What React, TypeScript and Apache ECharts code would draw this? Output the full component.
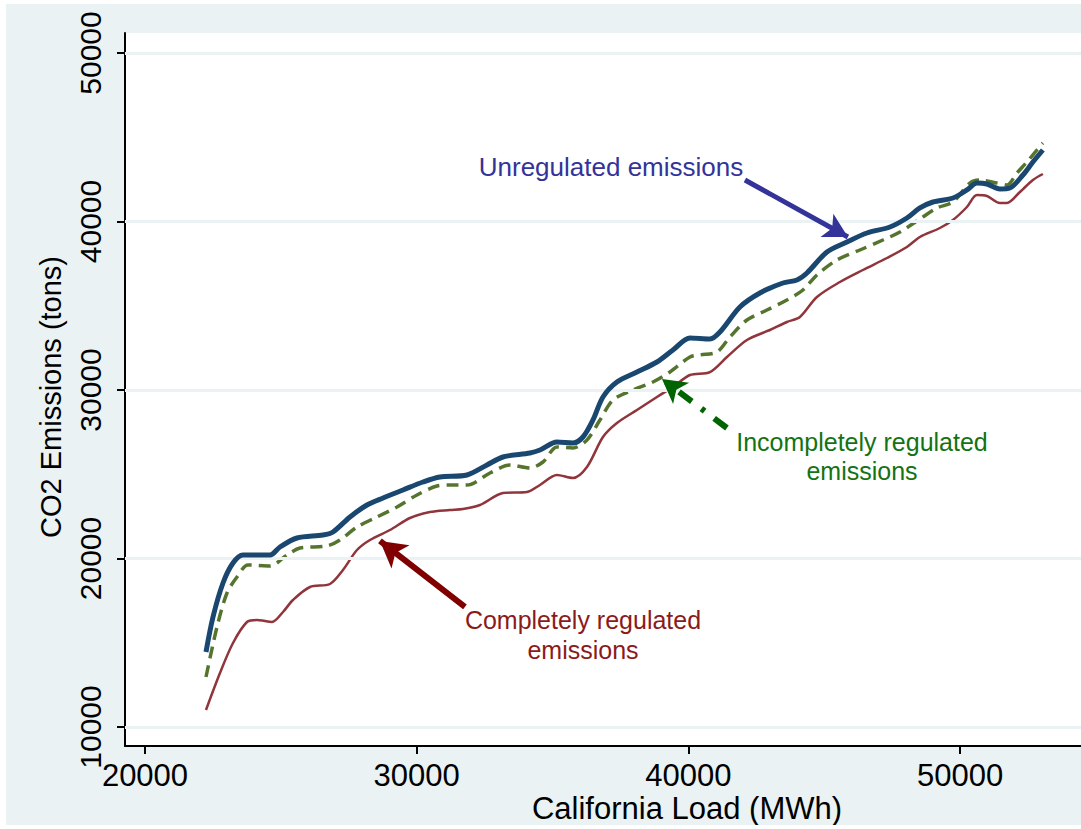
import React, { useEffect, useRef } from "react";
import * as echarts from "echarts";

// ---- Data ----
const unregLoad = [22245, 22503, 22871, 23239, 23607, 24601, 24969, 25594, 26551, 26919, 27545, 28171, 28760, 29496, 30232, 30857, 31851, 32587, 33176, 34170, 34538, 35164, 35753, 36121, 36489, 36857, 37372, 38108, 38844, 39433, 40059, 40795, 41163, 41899, 42635, 43482, 43997, 44365, 45101, 45837, 46573, 47420, 48045, 48524, 49002, 49738, 50254, 50622, 50990, 51468, 51836, 52315, 52683, 53050];
const unregCO2 = [14451, 16528, 18546, 19733, 20208, 20208, 20682, 21217, 21395, 21573, 22463, 23175, 23590, 24065, 24540, 24837, 24955, 25549, 26024, 26261, 26439, 26914, 26855, 27211, 28220, 29585, 30475, 31068, 31662, 32374, 33086, 33027, 33442, 34926, 35757, 36350, 36528, 36944, 38190, 38784, 39318, 39674, 40208, 40802, 41157, 41395, 41870, 42285, 42226, 41929, 41988, 42760, 43531, 44243];

const incompLoad = [22245, 22650, 23018, 23386, 23791, 24601, 25226, 25705, 26699, 27177, 27803, 28539, 29275, 30011, 30747, 31226, 31851, 32698, 33434, 34170, 34648, 35164, 35753, 36268, 36746, 37225, 37961, 38697, 39323, 40059, 40427, 41053, 41531, 42157, 42893, 43629, 44218, 44733, 45469, 46316, 47162, 47788, 48524, 49150, 49738, 50364, 50732, 51358, 51726, 52094, 52462, 52830, 53050];
const incompCO2 = [12967, 15935, 17953, 18902, 19614, 19555, 20208, 20623, 20742, 21098, 21869, 22463, 23056, 23768, 24303, 24362, 24362, 25074, 25549, 25371, 25727, 26617, 26558, 27033, 28220, 29406, 30000, 30475, 31068, 31958, 32077, 32255, 33145, 34154, 34748, 35341, 35935, 36825, 37715, 38309, 38902, 39377, 40149, 40802, 41157, 42285, 42463, 42285, 42166, 42879, 43531, 44243, 44659];

const compLoad = [22245, 22760, 23239, 23754, 24122, 24674, 25079, 25447, 26073, 26809, 27287, 27803, 28281, 29017, 29753, 30489, 31226, 31704, 32330, 33176, 34059, 34538, 35164, 35753, 36268, 36857, 37372, 38108, 38844, 39433, 40059, 40795, 41421, 42157, 43003, 43629, 44107, 44733, 45580, 46426, 47309, 48045, 48524, 49260, 49738, 50254, 50622, 50990, 51468, 51726, 52204, 52683, 53050];
const compCO2 = [11009, 13205, 14985, 16231, 16350, 16231, 16825, 17537, 18309, 18487, 19317, 20504, 21098, 21691, 22404, 22760, 22878, 22938, 23175, 23887, 23947, 24362, 24955, 24777, 25430, 27211, 28042, 28813, 29585, 30178, 30890, 31068, 31958, 32967, 33561, 34036, 34332, 35519, 36409, 37122, 37834, 38487, 39080, 39614, 40089, 40861, 41573, 41514, 41098, 41098, 41751, 42463, 42819];

const xTicks = [20000, 30000, 40000, 50000];
const yTicks = [10000, 20000, 30000, 40000, 50000];

// annotation arrows in data coordinates [fromX, fromY, toX, toY]
const arrowUnreg = [42083, 42463, 45874, 39080];
const arrowComp = [31777, 17122, 28649, 21039];
const arrowIncomp = [41421, 27745, 39029, 30653];

const X_MIN = 19264, X_MAX = 54453, Y_MIN = 8872, Y_MAX = 51187;
const FONT = "'Liberation Sans', Arial, sans-serif";
const OX = 6, OY = 4; // chart div offset on page

function zip(a: number[], b: number[]) {
  return a.map((v, i) => [v, b[i]]);
}

function arrowLine(a: number[], color: string, width: number, type: any, size: number[]) {
  return {
    silent: true,
    symbol: ["none", "arrow"],
    symbolSize: size,
    label: { show: false },
    emphasis: { disabled: true },
    lineStyle: { color, width, type, opacity: 1 },
    data: [[{ coord: [a[0], a[1]] }, { coord: [a[2], a[3]] }]],
  };
}

export default function App() {
  const ref = useRef<HTMLDivElement>(null);
  useEffect(() => {
    if (!ref.current) return;
    const chart = echarts.init(ref.current, undefined, { renderer: "svg" });
    chart.setOption({
      animation: false,
      backgroundColor: "#eaf2f3",
      grid: {
        left: 125 - OX,
        top: 33 - OY,
        right: 0,
        bottom: 825 - 746,
        show: true,
        backgroundColor: "#ffffff",
        borderWidth: 0,
      },
      xAxis: {
        type: "value",
        min: X_MIN,
        max: X_MAX,
        splitLine: { show: false },
        axisLine: { show: true, onZero: false, lineStyle: { color: "#000", width: 2 } },
        axisTick: { show: true, customValues: xTicks, length: 8, lineStyle: { color: "#000", width: 2 } },
        axisLabel: {
          customValues: xTicks,
          formatter: (v: number) => String(v),
          color: "#000",
          fontSize: 31,
          fontFamily: FONT,
          margin: 14,
        },
      },
      yAxis: {
        type: "value",
        min: Y_MIN,
        max: Y_MAX,
        splitLine: { show: false },
        axisLine: { show: true, onZero: false, lineStyle: { color: "#000", width: 2 } },
        axisTick: { show: true, customValues: yTicks, length: 8, lineStyle: { color: "#000", width: 2 } },
        axisLabel: {
          customValues: yTicks,
          formatter: (v: number) => String(v),
          rotate: 90,
          color: "#000",
          fontSize: 30,
          fontFamily: FONT,
          margin: 20,
        },
      },
      series: [
        {
          type: "line",
          data: [],
          z: 1,
          silent: true,
          markLine: {
            silent: true,
            symbol: ["none", "none"],
            label: { show: false },
            lineStyle: { color: "#eaf2f3", width: 3, type: "solid" },
            data: yTicks.map((v) => ({ yAxis: v })),
          },
        },
        {
          name: "Completely regulated emissions",
          type: "line",
          data: zip(compLoad, compCO2),
          showSymbol: false,
          smooth: 0.3,
          z: 3,
          lineStyle: { color: "#90353b", width: 2.5 },
          markLine: arrowLine(arrowComp, "#800000", 6, "solid", [22, 26]),
        },
        {
          name: "Incompletely regulated emissions",
          type: "line",
          data: zip(incompLoad, incompCO2),
          showSymbol: false,
          smooth: 0.3,
          z: 4,
          lineStyle: { color: "#55752f", width: 3.5, type: [12, 7] },
          markLine: arrowLine(arrowIncomp, "#006400", 6, [16, 12, 4, 12], [20, 24]),
        },
        {
          name: "Unregulated emissions",
          type: "line",
          data: zip(unregLoad, unregCO2),
          showSymbol: false,
          smooth: 0.3,
          z: 5,
          lineStyle: { color: "#1a476f", width: 5 },
          markLine: arrowLine(arrowUnreg, "#333399", 5, "solid", [20, 24]),
        },
      ],
      graphic: [
        {
          type: "text",
          x: 687 - OX,
          y: 808 - OY,
          style: { text: "California Load (MWh)", font: `31px ${FONT}`, fill: "#000", textAlign: "center", textVerticalAlign: "middle" },
        },
        {
          type: "text",
          x: 51 - OX,
          y: 397 - OY,
          rotation: Math.PI / 2,
          style: { text: "CO2 Emissions (tons)", font: `29px ${FONT}`, fill: "#000", textAlign: "center", textVerticalAlign: "middle" },
        },
        {
          type: "text",
          x: 611 - OX,
          y: 167 - OY,
          z: 10,
          style: { text: "Unregulated emissions", font: `26px ${FONT}`, fill: "#333399", textAlign: "center", textVerticalAlign: "middle" },
        },
        {
          type: "text",
          x: 583 - OX,
          y: 635 - OY,
          z: 10,
          style: { text: "Completely regulated\nemissions", font: `25px ${FONT}`, lineHeight: 30, fill: "#8b1a1a", textAlign: "center", textVerticalAlign: "middle" },
        },
        {
          type: "text",
          x: 862 - OX,
          y: 456 - OY,
          z: 10,
          style: { text: "Incompletely regulated\nemissions", font: `25px ${FONT}`, lineHeight: 29, fill: "#137313", textAlign: "center", textVerticalAlign: "middle" },
        },
      ],
    });
    return () => chart.dispose();
  }, []);
  return (
    <div
      ref={ref}
      style={{ position: "fixed", left: OX, top: OY, width: 1081 - OX, height: 825 - OY }}
    />
  );
}
